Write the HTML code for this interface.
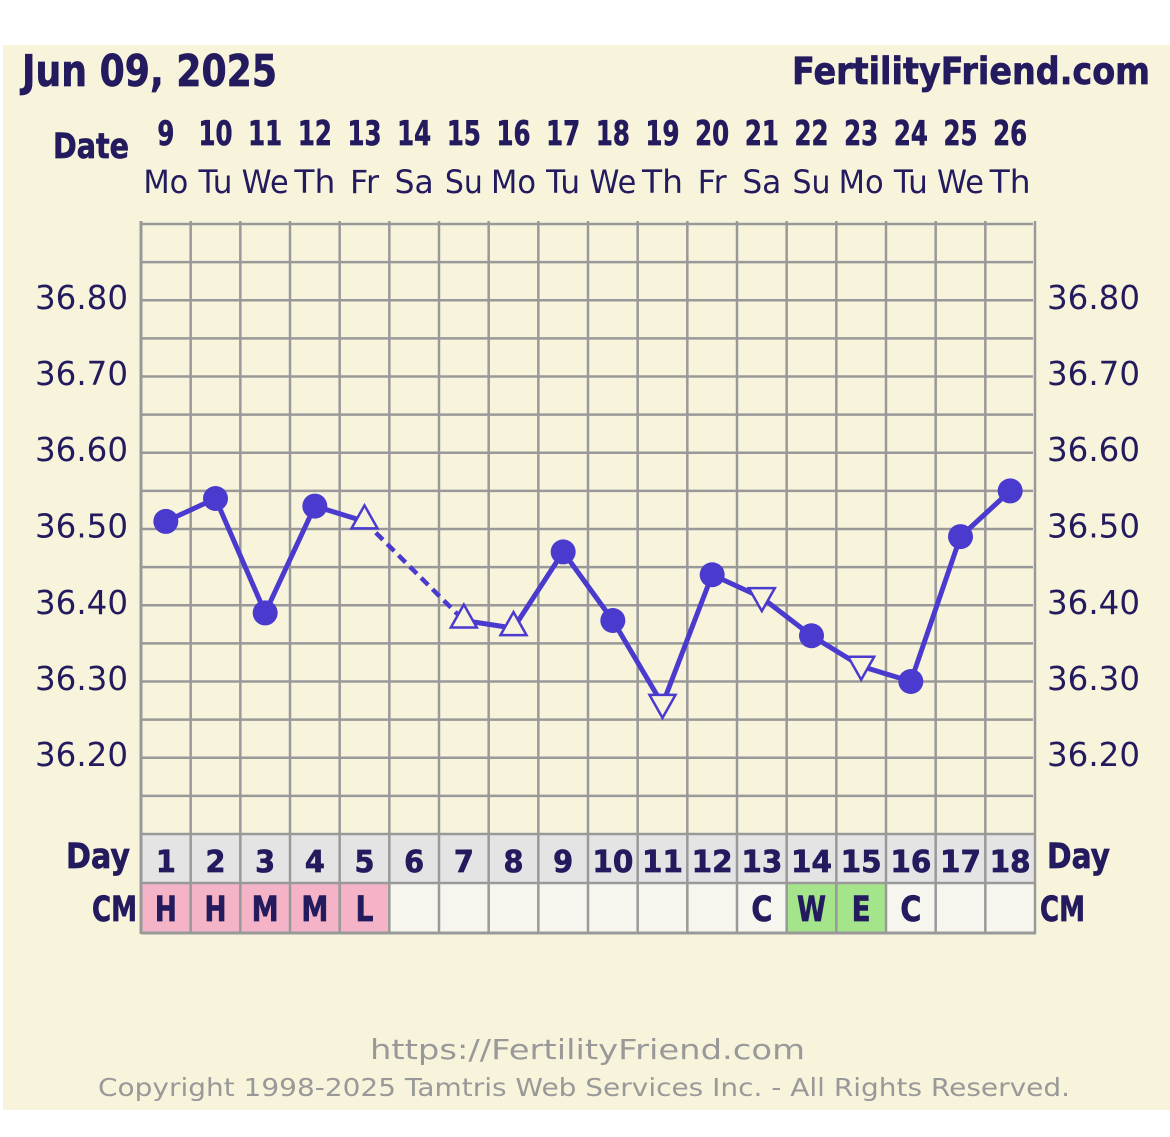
<!DOCTYPE html>
<html><head><meta charset="utf-8"><style>
html,body{margin:0;padding:0;background:#fff;}
svg{display:block;}
.b{font-family:"DejaVu Sans","Liberation Sans",sans-serif;font-weight:bold;fill:#231b5e;stroke:#231b5e;stroke-width:0.7px;}
.r{font-family:"DejaVu Sans","Liberation Sans",sans-serif;fill:#231b5e;}
.f{font-family:"DejaVu Sans","Liberation Sans",sans-serif;fill:#999;}
</style></head><body>
<svg width="1170" height="1137" viewBox="0 0 1170 1137" xmlns="http://www.w3.org/2000/svg">
<rect x="0" y="0" width="1170" height="1137" fill="#fff"/>
<rect x="3" y="45" width="1167" height="1065" fill="#f8f4dc"/>

<text class="b" x="22" y="86" font-size="44" textLength="255" lengthAdjust="spacingAndGlyphs">Jun 09, 2025</text>
<text class="b" x="792" y="84" font-size="37" textLength="358" lengthAdjust="spacingAndGlyphs">FertilityFriend.com</text>
<text class="b" x="53" y="158" font-size="35" textLength="76" lengthAdjust="spacingAndGlyphs">Date</text>

<g class="b" font-size="34" text-anchor="middle">
<text x="165.83" y="145" textLength="17" lengthAdjust="spacingAndGlyphs">9</text>
<text x="215.5" y="145" textLength="34" lengthAdjust="spacingAndGlyphs">10</text>
<text x="265.17" y="145" textLength="34" lengthAdjust="spacingAndGlyphs">11</text>
<text x="314.83" y="145" textLength="34" lengthAdjust="spacingAndGlyphs">12</text>
<text x="364.5" y="145" textLength="34" lengthAdjust="spacingAndGlyphs">13</text>
<text x="414.17" y="145" textLength="34" lengthAdjust="spacingAndGlyphs">14</text>
<text x="463.83" y="145" textLength="34" lengthAdjust="spacingAndGlyphs">15</text>
<text x="513.5" y="145" textLength="34" lengthAdjust="spacingAndGlyphs">16</text>
<text x="563.17" y="145" textLength="34" lengthAdjust="spacingAndGlyphs">17</text>
<text x="612.83" y="145" textLength="34" lengthAdjust="spacingAndGlyphs">18</text>
<text x="662.5" y="145" textLength="34" lengthAdjust="spacingAndGlyphs">19</text>
<text x="712.17" y="145" textLength="34" lengthAdjust="spacingAndGlyphs">20</text>
<text x="761.83" y="145" textLength="34" lengthAdjust="spacingAndGlyphs">21</text>
<text x="811.5" y="145" textLength="34" lengthAdjust="spacingAndGlyphs">22</text>
<text x="861.17" y="145" textLength="34" lengthAdjust="spacingAndGlyphs">23</text>
<text x="910.83" y="145" textLength="34" lengthAdjust="spacingAndGlyphs">24</text>
<text x="960.5" y="145" textLength="34" lengthAdjust="spacingAndGlyphs">25</text>
<text x="1010.17" y="145" textLength="34" lengthAdjust="spacingAndGlyphs">26</text>
</g>

<g class="r" font-size="32" text-anchor="middle">
<text x="165.83" y="193" textLength="45" lengthAdjust="spacingAndGlyphs">Mo</text>
<text x="215.5" y="193" textLength="34" lengthAdjust="spacingAndGlyphs">Tu</text>
<text x="265.17" y="193" textLength="47" lengthAdjust="spacingAndGlyphs">We</text>
<text x="314.83" y="193" textLength="41" lengthAdjust="spacingAndGlyphs">Th</text>
<text x="364.5" y="193" textLength="29" lengthAdjust="spacingAndGlyphs">Fr</text>
<text x="414.17" y="193" textLength="39" lengthAdjust="spacingAndGlyphs">Sa</text>
<text x="463.83" y="193" textLength="38" lengthAdjust="spacingAndGlyphs">Su</text>
<text x="513.5" y="193" textLength="45" lengthAdjust="spacingAndGlyphs">Mo</text>
<text x="563.17" y="193" textLength="34" lengthAdjust="spacingAndGlyphs">Tu</text>
<text x="612.83" y="193" textLength="47" lengthAdjust="spacingAndGlyphs">We</text>
<text x="662.5" y="193" textLength="41" lengthAdjust="spacingAndGlyphs">Th</text>
<text x="712.17" y="193" textLength="29" lengthAdjust="spacingAndGlyphs">Fr</text>
<text x="761.83" y="193" textLength="39" lengthAdjust="spacingAndGlyphs">Sa</text>
<text x="811.5" y="193" textLength="38" lengthAdjust="spacingAndGlyphs">Su</text>
<text x="861.17" y="193" textLength="45" lengthAdjust="spacingAndGlyphs">Mo</text>
<text x="910.83" y="193" textLength="34" lengthAdjust="spacingAndGlyphs">Tu</text>
<text x="960.5" y="193" textLength="47" lengthAdjust="spacingAndGlyphs">We</text>
<text x="1010.17" y="193" textLength="41" lengthAdjust="spacingAndGlyphs">Th</text>
</g>

<rect x="141" y="834" width="894" height="49" fill="#e4e4e4"/>
<rect x="141" y="883" width="894" height="50" fill="#f6f6ef"/>
<rect x="141" y="883" width="248.33" height="50" fill="#f4b3c6"/>
<rect x="786.67" y="883" width="99.33" height="50" fill="#a4e58b"/>

<g stroke="#999" stroke-width="2.5">
<line x1="190.67" y1="221" x2="190.67" y2="933"/>
<line x1="240.33" y1="221" x2="240.33" y2="933"/>
<line x1="290" y1="221" x2="290" y2="933"/>
<line x1="339.67" y1="221" x2="339.67" y2="933"/>
<line x1="389.33" y1="221" x2="389.33" y2="933"/>
<line x1="439" y1="221" x2="439" y2="933"/>
<line x1="488.67" y1="221" x2="488.67" y2="933"/>
<line x1="538.33" y1="221" x2="538.33" y2="933"/>
<line x1="588" y1="221" x2="588" y2="933"/>
<line x1="637.67" y1="221" x2="637.67" y2="933"/>
<line x1="687.33" y1="221" x2="687.33" y2="933"/>
<line x1="737" y1="221" x2="737" y2="933"/>
<line x1="786.67" y1="221" x2="786.67" y2="933"/>
<line x1="836.33" y1="221" x2="836.33" y2="933"/>
<line x1="886" y1="221" x2="886" y2="933"/>
<line x1="935.67" y1="221" x2="935.67" y2="933"/>
<line x1="985.33" y1="221" x2="985.33" y2="933"/>
<line x1="1035" y1="221" x2="1035" y2="934"/>
<line x1="141" y1="224" x2="1033" y2="224"/>
<line x1="141" y1="262.125" x2="1033" y2="262.125"/>
<line x1="141" y1="300.25" x2="1033" y2="300.25"/>
<line x1="141" y1="338.375" x2="1033" y2="338.375"/>
<line x1="141" y1="376.5" x2="1033" y2="376.5"/>
<line x1="141" y1="414.625" x2="1033" y2="414.625"/>
<line x1="141" y1="452.75" x2="1033" y2="452.75"/>
<line x1="141" y1="490.875" x2="1033" y2="490.875"/>
<line x1="141" y1="529" x2="1033" y2="529"/>
<line x1="141" y1="567.125" x2="1033" y2="567.125"/>
<line x1="141" y1="605.25" x2="1033" y2="605.25"/>
<line x1="141" y1="643.375" x2="1033" y2="643.375"/>
<line x1="141" y1="681.5" x2="1033" y2="681.5"/>
<line x1="141" y1="719.625" x2="1033" y2="719.625"/>
<line x1="141" y1="757.75" x2="1033" y2="757.75"/>
<line x1="141" y1="795.875" x2="1033" y2="795.875"/>
<line x1="141" y1="834" x2="1035" y2="834"/>
<line x1="141" y1="883" x2="1035" y2="883"/>
</g>
<line x1="141" y1="221" x2="141" y2="934" stroke="#999" stroke-width="3"/>
<line x1="141" y1="933" x2="1036" y2="933" stroke="#999" stroke-width="3"/>

<g class="r" font-size="33">
<text x="128" y="309" text-anchor="end" textLength="93" lengthAdjust="spacingAndGlyphs">36.80</text>
<text x="128" y="385" text-anchor="end" textLength="93" lengthAdjust="spacingAndGlyphs">36.70</text>
<text x="128" y="461" text-anchor="end" textLength="93" lengthAdjust="spacingAndGlyphs">36.60</text>
<text x="128" y="537.5" text-anchor="end" textLength="93" lengthAdjust="spacingAndGlyphs">36.50</text>
<text x="128" y="614" text-anchor="end" textLength="93" lengthAdjust="spacingAndGlyphs">36.40</text>
<text x="128" y="690" text-anchor="end" textLength="93" lengthAdjust="spacingAndGlyphs">36.30</text>
<text x="128" y="766" text-anchor="end" textLength="93" lengthAdjust="spacingAndGlyphs">36.20</text>
<text x="1047" y="309" textLength="93" lengthAdjust="spacingAndGlyphs">36.80</text>
<text x="1047" y="385" textLength="93" lengthAdjust="spacingAndGlyphs">36.70</text>
<text x="1047" y="461" textLength="93" lengthAdjust="spacingAndGlyphs">36.60</text>
<text x="1047" y="537.5" textLength="93" lengthAdjust="spacingAndGlyphs">36.50</text>
<text x="1047" y="614" textLength="93" lengthAdjust="spacingAndGlyphs">36.40</text>
<text x="1047" y="690" textLength="93" lengthAdjust="spacingAndGlyphs">36.30</text>
<text x="1047" y="766" textLength="93" lengthAdjust="spacingAndGlyphs">36.20</text>
</g>

<g fill="none" stroke="#4a3acd" stroke-linejoin="round" stroke-linecap="round">
<polyline stroke-width="5" points="165.83,521.4 215.5,498.5 265.17,612.9 314.83,506.1 364.5,521.4"/>
<line stroke-width="4.5" stroke-linecap="butt" stroke-dasharray="10 6" x1="364.5" y1="521.4" x2="463.83" y2="620.5"/>
<polyline stroke-width="5" points="463.83,620.5 513.5,628.1 563.17,551.9 612.83,620.5 662.5,704.4 712.17,574.75 761.83,597.6 811.5,635.75 861.17,666.25 910.83,681.5 960.5,536.6 1010.17,490.9"/>
</g>

<g fill="#4a3acd">
<circle cx="165.83" cy="521.4" r="12.5"/>
<circle cx="215.5" cy="498.5" r="12.5"/>
<circle cx="265.17" cy="612.9" r="12.5"/>
<circle cx="314.83" cy="506.1" r="12.5"/>
<circle cx="563.17" cy="551.9" r="12.5"/>
<circle cx="612.83" cy="620.5" r="12.5"/>
<circle cx="712.17" cy="574.75" r="12.5"/>
<circle cx="811.5" cy="635.75" r="12.5"/>
<circle cx="910.83" cy="681.5" r="12.5"/>
<circle cx="960.5" cy="536.6" r="12.5"/>
<circle cx="1010.17" cy="490.9" r="12.5"/>
</g>
<g fill="#f8f4dc" stroke="#4a3acd" stroke-width="2.5" stroke-linejoin="miter">
<polygon points="364.5,505.4 351.5,528.4 377.5,528.4"/>
<polygon points="463.83,604.5 450.83,627.5 476.83,627.5"/>
<polygon points="513.5,612.1 500.5,635.1 526.5,635.1"/>
<polygon points="649.5,694.9 675.5,694.9 662.5,717.9"/>
<polygon points="748.83,588.1 774.83,588.1 761.83,611.1"/>
<polygon points="848.17,656.75 874.17,656.75 861.17,679.75"/>
</g>

<text class="b" x="66" y="868" font-size="35" textLength="64" lengthAdjust="spacingAndGlyphs">Day</text>
<text class="b" x="1047" y="868" font-size="35" textLength="63" lengthAdjust="spacingAndGlyphs">Day</text>
<text class="b" x="92" y="921" font-size="35" textLength="45" lengthAdjust="spacingAndGlyphs">CM</text>
<text class="b" x="1040" y="921" font-size="35" textLength="45" lengthAdjust="spacingAndGlyphs">CM</text>

<g class="b" font-size="30" text-anchor="middle">
<text x="165.83" y="872" textLength="20" lengthAdjust="spacingAndGlyphs">1</text>
<text x="215.5" y="872" textLength="20" lengthAdjust="spacingAndGlyphs">2</text>
<text x="265.17" y="872" textLength="20" lengthAdjust="spacingAndGlyphs">3</text>
<text x="314.83" y="872" textLength="20" lengthAdjust="spacingAndGlyphs">4</text>
<text x="364.5" y="872" textLength="20" lengthAdjust="spacingAndGlyphs">5</text>
<text x="414.17" y="872" textLength="20" lengthAdjust="spacingAndGlyphs">6</text>
<text x="463.83" y="872" textLength="20" lengthAdjust="spacingAndGlyphs">7</text>
<text x="513.5" y="872" textLength="20" lengthAdjust="spacingAndGlyphs">8</text>
<text x="563.17" y="872" textLength="20" lengthAdjust="spacingAndGlyphs">9</text>
<text x="612.83" y="872" textLength="41" lengthAdjust="spacingAndGlyphs">10</text>
<text x="662.5" y="872" textLength="41" lengthAdjust="spacingAndGlyphs">11</text>
<text x="712.17" y="872" textLength="41" lengthAdjust="spacingAndGlyphs">12</text>
<text x="761.83" y="872" textLength="41" lengthAdjust="spacingAndGlyphs">13</text>
<text x="811.5" y="872" textLength="41" lengthAdjust="spacingAndGlyphs">14</text>
<text x="861.17" y="872" textLength="41" lengthAdjust="spacingAndGlyphs">15</text>
<text x="910.83" y="872" textLength="41" lengthAdjust="spacingAndGlyphs">16</text>
<text x="960.5" y="872" textLength="41" lengthAdjust="spacingAndGlyphs">17</text>
<text x="1010.17" y="872" textLength="41" lengthAdjust="spacingAndGlyphs">18</text>
</g>

<g class="b" font-size="35" text-anchor="middle">
<text x="165.83" y="921" textLength="22" lengthAdjust="spacingAndGlyphs">H</text>
<text x="215.5" y="921" textLength="22" lengthAdjust="spacingAndGlyphs">H</text>
<text x="265.17" y="921" textLength="27" lengthAdjust="spacingAndGlyphs">M</text>
<text x="314.83" y="921" textLength="27" lengthAdjust="spacingAndGlyphs">M</text>
<text x="364.5" y="921" textLength="18" lengthAdjust="spacingAndGlyphs">L</text>
<text x="761.83" y="921" textLength="21" lengthAdjust="spacingAndGlyphs">C</text>
<text x="811.5" y="921" textLength="29" lengthAdjust="spacingAndGlyphs">W</text>
<text x="861.17" y="921" textLength="19" lengthAdjust="spacingAndGlyphs">E</text>
<text x="910.83" y="921" textLength="21" lengthAdjust="spacingAndGlyphs">C</text>
</g>

<text class="f" x="587.5" y="1059" font-size="28" text-anchor="middle" textLength="435" lengthAdjust="spacingAndGlyphs">https://FertilityFriend.com</text>
<text class="f" x="584" y="1096" font-size="25" text-anchor="middle" textLength="972" lengthAdjust="spacingAndGlyphs">Copyright 1998-2025 Tamtris Web Services Inc. - All Rights Reserved.</text>
</svg>
</body></html>
